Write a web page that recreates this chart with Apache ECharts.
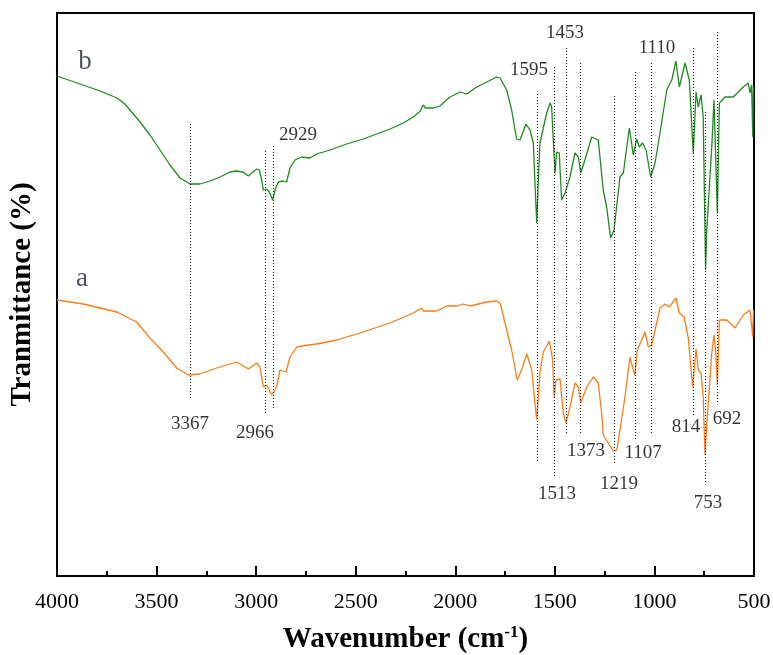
<!DOCTYPE html>
<html>
<head>
<meta charset="utf-8">
<script src="https://cdn.jsdelivr.net/npm/echarts@6/dist/echarts.min.js"></script>
<style>
  html, body {margin: 0; padding: 0; background: #fff;}
  #chart {width: 773px; height: 655px;}
</style>
</head>
<body>
<div id="chart"></div>
<script>
// spectra: [wavenumber, transmittance (arb. units)]
const curveB = [
    [4000, 500], [3884, 492], [3784, 485], [3699, 478], [3659, 472], [3583, 454], [3533, 441],
    [3483, 426], [3433, 411], [3382, 398], [3332, 392], [3282, 392], [3232, 395], [3181, 399],
    [3131, 404], [3098, 405], [3066, 404], [3039, 400], [3022, 403], [2997, 407], [2984, 406],
    [2972, 396], [2964, 386], [2947, 387], [2934, 384], [2917, 376], [2905, 386], [2889, 394],
    [2864, 395], [2847, 394], [2830, 408], [2805, 416], [2771, 419], [2730, 418], [2696, 422],
    [2629, 426], [2545, 432], [2462, 437], [2395, 442], [2328, 447], [2261, 453], [2211, 459],
    [2175, 465], [2161, 471], [2150, 468], [2110, 468], [2077, 470], [2027, 479], [1976, 484],
    [1943, 482], [1892, 489], [1842, 494], [1792, 499], [1775, 498], [1742, 486], [1717, 466],
    [1692, 437], [1675, 436], [1645, 452], [1625, 446], [1608, 433], [1600, 393], [1591, 353],
    [1583, 396], [1575, 433], [1541, 463], [1524, 473], [1516, 469], [1508, 436], [1499, 403],
    [1491, 424], [1478, 423], [1466, 376], [1449, 383], [1424, 399], [1399, 423], [1382, 419],
    [1370, 403], [1349, 416], [1315, 439], [1282, 436], [1257, 386], [1240, 369], [1220, 338],
    [1203, 346], [1173, 399], [1156, 403], [1126, 448], [1106, 421], [1089, 437], [1076, 429],
    [1059, 433], [1042, 426], [1019, 399], [997, 413], [972, 443], [938, 486], [913, 496],
    [892, 515], [875, 489], [846, 513], [825, 496], [805, 423], [791, 484], [780, 469],
    [766, 481], [755, 459], [743, 306], [738, 343], [712, 429], [701, 476], [691, 476],
    [684, 363], [674, 473], [646, 479], [604, 479], [554, 489], [529, 493], [520, 483],
    [512, 491], [506, 439], [503, 489]
];

const curveA = [
    [4000, 276], [3868, 272], [3700, 264], [3600, 254], [3533, 238], [3466, 224], [3399, 208],
    [3341, 201], [3282, 202], [3198, 208], [3098, 214], [3039, 207], [2997, 213], [2981, 209],
    [2964, 189], [2947, 191], [2922, 181], [2914, 179], [2897, 189], [2880, 206], [2850, 204],
    [2830, 219], [2796, 229], [2738, 231], [2730, 229], [2696, 232], [2595, 236], [2462, 244],
    [2328, 253], [2211, 263], [2169, 268], [2161, 265], [2093, 265], [2043, 270], [1993, 270],
    [1960, 272], [1926, 270], [1842, 274], [1792, 275], [1775, 273], [1742, 246], [1717, 226],
    [1689, 196], [1667, 206], [1641, 222], [1616, 206], [1600, 173], [1591, 156], [1575, 203],
    [1558, 224], [1528, 235], [1511, 216], [1504, 178], [1494, 196], [1474, 197], [1458, 163],
    [1444, 153], [1424, 169], [1399, 193], [1382, 189], [1370, 173], [1340, 189], [1307, 199],
    [1282, 193], [1265, 163], [1257, 141], [1232, 133], [1207, 125], [1189, 126], [1173, 146],
    [1148, 179], [1123, 219], [1106, 206], [1098, 201], [1086, 226], [1064, 236], [1047, 244],
    [1031, 229], [1014, 231], [989, 253], [972, 268], [947, 272], [925, 269], [892, 278],
    [875, 263], [851, 259], [830, 238], [808, 189], [791, 227], [780, 206], [766, 203],
    [755, 179], [746, 121], [738, 149], [712, 223], [701, 241], [691, 221], [684, 191],
    [674, 256], [637, 256], [595, 248], [554, 261], [520, 266], [512, 264], [506, 239],
    [503, 266]
];

// dotted guide lines: [wavenumber, top, bottom]
const guideLines = [
    [3332, 452, 177], [2956, 425, 163], [2915, 430, 168], [1590, 482, 113], [1503, 509, 99],
    [1443, 528, 142], [1370, 513, 143], [1201, 480, 111], [1097, 504, 135], [1016, 513, 142],
    [803, 528, 159], [743, 464, 94], [684, 544, 174]
];

// peak labels
const peakText = ['3367', '2966', '2929', '1595', '1453', '1110', '1513', '1373', '1219', '1107', '814', '753', '692'];
const peakX = [3332, 3006, 2790, 1630, 1449, 987, 1489, 1344, 1178, 1057, 842, 731, 636];
const peakY = [152, 143, 441, 506, 543, 528, 82, 125, 92, 123, 149, 73, 157];

const curveNames = ['b', 'a'];
const curveNameX = [3859, 3874];
const curveNameY = [514, 297];

const xMin = 500, xMax = 4000;

const serif = '"Liberation Serif", "DejaVu Serif", serif';

const chart = echarts.init(document.getElementById('chart'));

chart.setOption({
    animation: false,
    grid: {
        left: 57, right: 19, top: 13, bottom: 79,
        outerBoundsMode: 'none',
        show: true, borderColor: '#000', borderWidth: 2
    },
    xAxis: [{
        type: 'value',
        inverse: true,
        min: xMin,
        max: xMax,
        interval: 250,
        name: 'Wavenumber (cm{sup|-1})',
        nameLocation: 'middle',
        nameGap: 48,
        nameTextStyle: {
            fontFamily: serif, fontSize: 29, fontWeight: 'bold', color: '#000',
            rich: {
                sup: {fontFamily: serif, fontSize: 17, fontWeight: 'bold', color: '#000', verticalAlign: 'top', padding: [0, 0, 14, 0]}
            }
        },
        axisLine: {lineStyle: {color: '#000', width: 2}},
        axisTick: {show: true, inside: true, length: 5, lineStyle: {color: '#000', width: 2}},
        splitLine: {show: false},
        axisLabel: {
            fontFamily: serif, fontSize: 22, color: '#000', margin: 15,
            formatter: v => (v % 500 === 0 ? String(v) : '')
        }
    }, {
        type: 'value',
        inverse: true,
        position: 'bottom',
        min: xMin,
        max: xMax,
        interval: 500,
        axisLine: {show: false},
        axisTick: {show: true, inside: true, length: 10, lineStyle: {color: '#000', width: 2}},
        axisLabel: {show: false},
        splitLine: {show: false}
    }],
    yAxis: {
        type: 'value',
        min: 0,
        max: 563,
        name: 'Tranmittance (%)',
        nameLocation: 'middle',
        nameGap: 20,
        nameTextStyle: {fontFamily: serif, fontSize: 29, fontWeight: 'bold', color: '#000'},
        axisLine: {show: true, lineStyle: {color: '#000', width: 2}},
        axisTick: {show: false},
        axisLabel: {show: false},
        splitLine: {show: false}
    },
    series: [{
        name: 'b',
        type: 'line',
        data: curveB,
        showSymbol: false,
        lineStyle: {color: '#1f8a1f', width: 1.3},
        markLine: {
            silent: true,
            symbol: 'none',
            label: {show: false},
            lineStyle: {color: '#000', type: [1, 2], width: 1},
            data: guideLines.map(g => [{coord: [g[0], g[1]]}, {coord: [g[0], g[2]]}])
        }
    }, {
        name: 'a',
        type: 'line',
        data: curveA,
        showSymbol: false,
        lineStyle: {color: '#fb7d15', width: 1.3}
    }, {
        type: 'scatter',
        silent: true,
        symbolSize: 1,
        itemStyle: {color: 'rgba(0,0,0,0)'},
        data: peakText.map((t, i) => [peakX[i], peakY[i], t]),
        label: {
            show: true, position: 'inside', formatter: p => p.data[2],
            fontFamily: serif, fontSize: 19, color: '#000'
        }
    }, {
        type: 'scatter',
        silent: true,
        symbolSize: 1,
        itemStyle: {color: 'rgba(0,0,0,0)'},
        data: curveNames.map((t, i) => [curveNameX[i], curveNameY[i], t]),
        label: {
            show: true, position: 'inside', formatter: p => p.data[2],
            fontFamily: serif, fontSize: 27, color: '#23283a'
        }
    }]
});
</script>
</body>
</html>
